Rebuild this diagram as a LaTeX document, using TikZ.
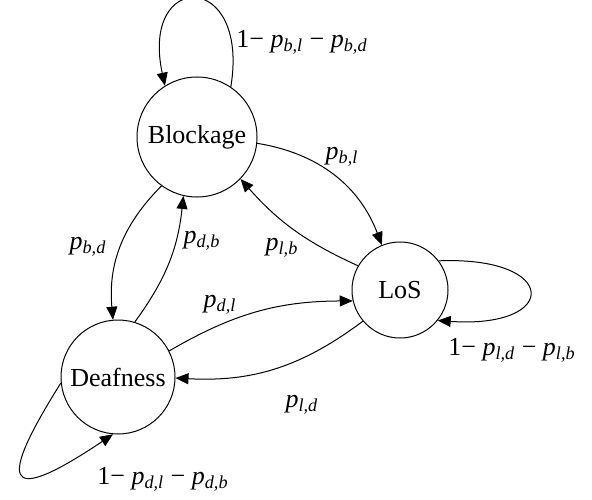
\documentclass[tikz,border=0pt]{standalone}
\usepackage{fontspec}
\setmainfont{Liberation Serif}
\usetikzlibrary{arrows.meta}
\newcommand{\pr}[1]{\textit{p}\textsubscript{\textit{#1}}}
\tikzset{
  stnode/.style={draw,circle,inner sep=0pt,line width=0.5pt},
  trans/.style={->,line width=0.5pt},
}
\begin{document}
\begin{tikzpicture}[x=0.5pt,y=0.5pt,>={Triangle[length=6.5pt,width=5.5pt]},font=\fontsize{13}{15}\selectfont]
\useasboundingbox (0,0) rectangle (592,499);
\node[stnode,minimum size=60pt] (blk) at (197,362) {Blockage};
\node[stnode,minimum size=48pt] (los) at (400,209) {LoS};
\node[stnode,minimum size=57pt] (dea) at (118,122) {Deafness};

\draw[trans] (blk.56) .. controls (250,529) and (140,529) .. (blk.122);
\draw[trans] (blk.-6) to[bend left=30] (los.112);
\draw[trans] (los.150) to[bend left=12] (blk.-44);
\draw[trans] (blk.234) to[bend right=25] (dea.95);
\draw[trans] (dea.73) to[bend right=15] (blk.257);
\draw[trans] (dea.27) to[bend left=15] (los.193);
\draw[trans] (los.220) to[bend left=20] (dea.-1);
\draw[trans] (los.37) .. controls (560,243) and (560,170) .. (los.-39);
\draw[trans] (dea.186) .. controls (0,19) and (0,-11) .. (dea.265);

\node (lbb) at (302,457) {1− \pr{b,l} − \pr{b,d}};
\node (lbl) at (342,342) {\pr{b,l}};
\node (llb) at (282,251) {\pr{l,b}};
\node (lbd) at (88,252) {\pr{b,d}};
\node (ldb) at (202,258) {\pr{d,b}};
\node (ldl) at (220,194) {\pr{d,l}};
\node (lld) at (302,94) {\pr{l,d}};
\node (lll) at (512,149) {1− \pr{l,d} − \pr{l,b}};
\node (ldd) at (163,20) {1− \pr{d,l} − \pr{d,b}};
\end{tikzpicture}
\end{document}
